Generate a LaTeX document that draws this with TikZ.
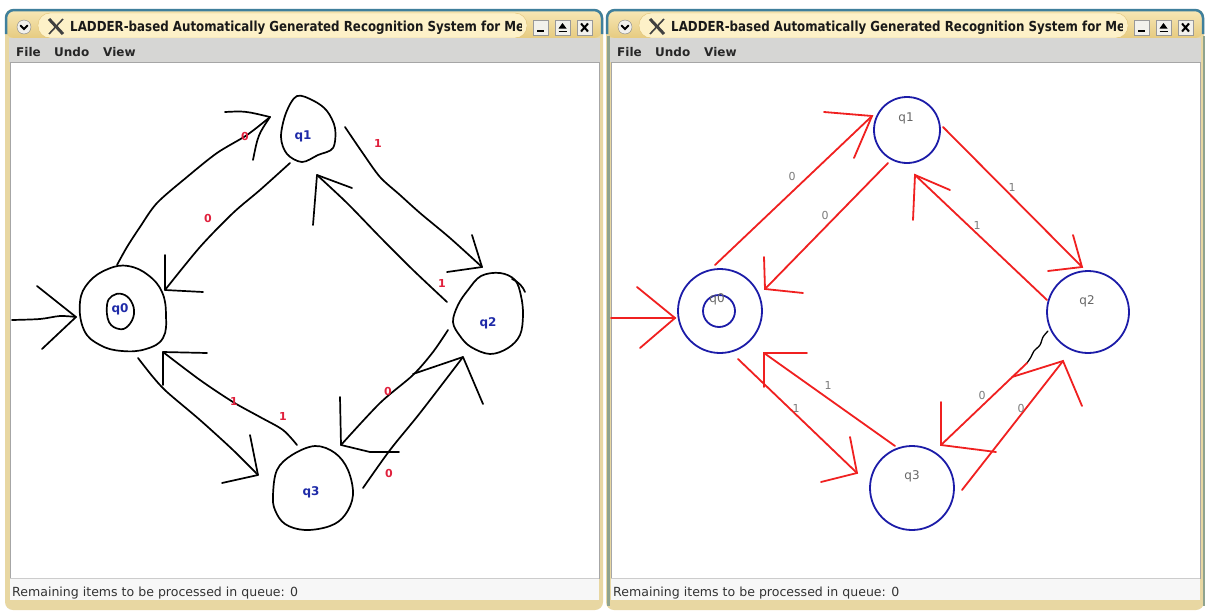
\documentclass[tikz,border=0pt]{standalone}
\usepackage{fontspec}
\usepackage{graphicx}
\setmainfont{DejaVu Sans}
\usetikzlibrary{calc}
\definecolor{frameC}{HTML}{E8D7A2}
\definecolor{barTop}{HTML}{F7E7B6}
\definecolor{barBot}{HTML}{E6CB80}
\definecolor{pillC}{HTML}{FDF1C8}
\definecolor{pillEdge}{HTML}{E0C274}
\definecolor{tealC}{HTML}{3F7F9C}
\definecolor{menuC}{HTML}{D6D6D4}
\definecolor{stateblue}{HTML}{1C1CA8}
\definecolor{edgered}{HTML}{F02020}
\definecolor{lblred}{HTML}{E0203C}
\definecolor{lblgray}{HTML}{7A7A7A}
\definecolor{labblue}{HTML}{1E2AA8}
\definecolor{btnC}{HTML}{F2F1EC}

% One application window: chrome, menu bar, empty canvas and status line
\newcommand\appwindow[2]{%
\begin{scope}[shift={(#1,0)}]
  \fill[frameC, rounded corners=8] (5,9) rectangle (603,610);
  \shade[top color=barTop, bottom color=barBot, rounded corners=8] (6,10) rectangle (602,38);
  \draw[tealC, line width=2.5pt, rounded corners=8] (6,34) -- (6,10) -- (602,10) -- (602,34);
  \draw[pillEdge, fill=pillC, rounded corners=12] (38,13) rectangle (527,38);
  % window menu button
  \draw[gray, fill=btnC] (24,27) circle (7);
  \draw[black, line width=2pt, line cap=round] (20.5,25.5) -- (24,29) -- (27.5,25.5);
  % X logo
  \draw[black!75, line width=3pt] (49,19) -- (63,34);
  \draw[black!75, line width=1.6pt] (63,19) -- (49,34);
  \begin{scope}
    \clip (38,13) rectangle (521,38);
    \node[anchor=base west, inner sep=0pt, text=black!90] (title#2) at (70,31.5)
      {\resizebox{454pt}{10.5pt}{\bfseries LADDER-based Automatically Generated Recognition System for Me}};
  \end{scope}
  % minimise, maximise, close
  \foreach \bx in {533,555,577}{
    \draw[gray!80, fill=btnC] (\bx,20) rectangle ++(15,15);
  }
  \draw[black, line width=2pt] (537,31) -- (544,31);
  \fill[black] (558.5,28.5) -- (562.5,23) -- (566.5,28.5) -- cycle;
  \draw[black, line width=1.5pt] (558.5,31.5) -- (566.5,31.5);
  \draw[black, line width=2pt] (581,23.5) -- (588,31.5) (588,23.5) -- (581,31.5);
  % menu bar
  \fill[menuC] (9,38) rectangle (600,62);
  \node[menutext] (file#2) at (16,56) {File};
  \node[menutext] (undo#2) at (54,56) {Undo};
  \node[menutext] (view#2) at (103,56) {View};
  % canvas and status line
  \draw[gray!70, fill=white] (10,62) rectangle (599,578);
  \fill[white!97!black] (10,578) rectangle (599,600);
  \draw[gray!40] (10,578) -- (599,578);
  \node[anchor=base west, inner sep=0pt, text=black!80] (status#2) at (12,596)
    {\resizebox{286pt}{!}{Remaining items to be processed in queue: 0}};
\end{scope}}

\begin{document}
\begin{tikzpicture}[x=1pt,y=-1pt,
  menutext/.style={anchor=base west, inner sep=0pt, text=black!85, font=\bfseries\fontsize{12}{14}\selectfont},
  hand/.style={line width=1.7pt, line cap=round, line join=round, black},
  rline/.style={line width=1.8pt, edgered, line cap=round, line join=miter},
  st/.style={circle, draw=stateblue, line width=1.8pt, inner sep=0pt},
  lq/.style={text=labblue, font=\bfseries\fontsize{12}{13}\selectfont, inner sep=0pt},
  ld/.style={text=lblred, font=\bfseries\fontsize{11}{12}\selectfont, inner sep=0pt},
  rq/.style={text=black!60, font=\fontsize{12}{13}\selectfont, inner sep=0pt},
  rd/.style={text=lblgray, font=\fontsize{11}{12}\selectfont, inner sep=0pt},
]
\useasboundingbox (0,0) rectangle (1210,613);
\fill[white] (0,0) rectangle (1210,613);

\appwindow{0}{L}
\appwindow{601}{R}
\draw[gray!60!green!40!black!50, line width=3pt] (608,36) -- (608,606);
\draw[gray!60!green!40!black!50, line width=2pt] (1204,36) -- (1204,606);

% ---------------- sketched automaton (left) ----------------
\node[lq] (lq0) at (120,309) {q0};
\node[lq] (lq1) at (303,136) {q1};
\node[lq] (lq2) at (488,323) {q2};
\node[lq] (lq3) at (311,492) {q3};

\draw[hand] plot[smooth cycle, tension=0.7] coordinates
  {(80,302) (89,282) (108,269) (128,266) (148,275) (162,292) (166,315) (163,338) (146,349) (122,351) (100,345) (84,330)};
\draw[hand] plot[smooth cycle, tension=0.7] coordinates
  {(107,305) (112,296) (122,294) (131,301) (134,314) (128,326) (119,329) (109,322)};
\draw[hand] plot[smooth cycle, tension=0.55] coordinates
  {(281,137) (286,113) (297,96) (314,101) (327,111) (335,128) (333,148) (318,155) (302,162) (287,154)};
\draw[hand] plot[smooth cycle, tension=0.6] coordinates
  {(453,322) (458,305) (468,290) (481,276) (500,273) (515,280) (521,296) (523,315) (520,335) (508,348) (490,354) (471,347) (460,336)};
\draw[hand] (512,279) .. controls (519,282) and (523,287) .. (525,292);
\draw[hand] plot[smooth cycle, tension=0.6] coordinates
  {(273,495) (277,470) (292,455) (315,446) (335,453) (348,470) (353,495) (345,515) (330,526) (305,530) (285,524) (275,510)};

% named ends of the sketched strokes
\coordinate (Lin) at (12,320);   \coordinate (Lint) at (76,317);
\coordinate (L01s) at (117,265); \coordinate (L01t) at (270,117);
\coordinate (L10s) at (290,163); \coordinate (L10t) at (165,290);
\coordinate (L12s) at (345,127); \coordinate (L12t) at (482,267);
\coordinate (L21s) at (447,302); \coordinate (L21t) at (317,175);
\coordinate (L30s) at (297,445); \coordinate (L30t) at (163,352);
\coordinate (L03s) at (138,358); \coordinate (L03t) at (258,475);
\coordinate (L23s) at (448,330); \coordinate (L23t) at (341,445);
\coordinate (L32s) at (363,488); \coordinate (L32t) at (463,357);

\draw[hand] plot[smooth] coordinates {(Lin) (40,319) (60,316) (Lint)};
\draw[hand] (37,286) -- (Lint) -- (42,349);

\draw[hand] plot[smooth] coordinates {(L01s) (127,247) (140,227) (157,203) (187,177) (217,153) (247,135) (L01t)};
\draw[hand] (225,112) .. controls (245,111) .. (L01t) .. controls (258,135) .. (253,160);

\draw[hand] plot[smooth] coordinates {(L10s) (260,190) (233,213) (200,247) (L10t)};
\draw[hand] (165,255) -- (L10t) -- (203,292);

\draw[hand] plot[smooth] coordinates {(L12s) (362,152) (380,177) (400,195) (420,213) (450,238) (L12t)};
\draw[hand] (472,235) -- (L12t) -- (447,272);

\draw[hand] plot[smooth] coordinates {(L21s) (413,270) (380,237) (347,203) (L21t)};
\draw[hand] (313,225) -- (L21t) -- (352,188);

\draw[hand] plot[smooth] coordinates {(L30s) (283,430) (260,417) (233,402) (200,380) (L30t)};
\draw[hand] (163,385) -- (L30t) -- (207,353);

\draw[hand] plot[smooth] coordinates {(L03s) (153,377) (167,392) (200,420) (233,450) (L03t)};
\draw[hand] (250,435) -- (L03t) -- (222,483);

\draw[hand] plot[smooth] coordinates {(L23s) (433,352) (413,375) (380,403) (L23t)};
\draw[hand] (340,397) -- (L23t) -- (370,452) -- (399,452);

\draw[hand] plot[smooth] coordinates {(L32s) (390,450) (420,413) (L32t)};
\draw[hand] (413,374) -- (L32t) -- (483,404);

\node[ld] (l01) at (245,136) {0};
\node[ld] (l10) at (208,218) {0};
\node[ld] (l12) at (378,143) {1};
\node[ld] (l21) at (442,283) {1};
\node[ld] (l30) at (283,416) {1};
\node[ld] (l03) at (234,401) {1};
\node[ld] (l23) at (388,391) {0};
\node[ld] (l32) at (389,473) {0};

% ---------------- recognised automaton (right) ----------------
\node[st, minimum size=84pt] (r0) at (720,311) {};
\node[st, minimum size=32pt] (r0in) at (719,311) {};
\node[st, minimum size=66pt] (r1) at (907,130) {};
\node[st, minimum size=82pt] (r2) at (1088,312) {};
\node[st, minimum size=84pt] (r3) at (912,488) {};
\node[rq] (rq0) at (717,299) {q0};
\node[rq] (rq1) at (906,118) {q1};
\node[rq] (rq2) at (1087,301) {q2};
\node[rq] (rq3) at (912,476) {q3};

\coordinate (Rin) at (611,318);   \coordinate (Rint) at (675,318);
\coordinate (R01s) at (715,265); \coordinate (R01t) at (872,116);
\coordinate (R10s) at (888,163); \coordinate (R10t) at (765,289);
\coordinate (R12s) at (943,127); \coordinate (R12t) at (1082,267);
\coordinate (R21s) at (1047,300); \coordinate (R21t) at (915,175);
\coordinate (R30s) at (895,446); \coordinate (R30t) at (764,353);
\coordinate (R03s) at (738,359); \coordinate (R03t) at (857,473);
\coordinate (R23s) at (1027,363); \coordinate (R23t) at (941,445);
\coordinate (R32s) at (962,490); \coordinate (R32t) at (1063,361);

\draw[rline] (Rin) -- (Rint);
\draw[rline] (Rint) ++(-38,-31) -- (Rint) -- ++(-35,30);
\draw[rline] (R01s) -- (R01t);
\draw[rline] (R01t) ++(-48,-4) -- (R01t) -- ++(-18,42);
\draw[rline] (R10s) -- (R10t);
\draw[rline] (R10t) ++(-1,-32) -- (R10t) -- ++(38,4);
\draw[rline] (R12s) -- (R12t);
\draw[rline] (R12t) ++(-9,-32) -- (R12t) -- ++(-34,4);
\draw[rline] (R21s) -- (R21t);
\draw[rline] (R21t) ++(-2,45) -- (R21t) -- ++(35,15);
\draw[rline] (R30s) -- (R30t);
\draw[rline] (R30t) ++(0,34) -- (R30t) -- ++(43,0);
\draw[rline] (R03s) -- (R03t);
\draw[rline] (R03t) ++(-7,-36) -- (R03t) -- ++(-36,9);
\draw[hand, line width=1.3pt] plot[smooth] coordinates {(1048,331) (1043,337) (1040,345) (1034,351) (1031,357) (R23s)};
\draw[rline] (R23s) -- (R23t);
\draw[rline] (R23t) ++(0,-43) -- (R23t) -- ++(55,7);
\draw[rline] (R32s) -- (R32t);
\draw[rline] (R32t) ++(-51,16) -- (R32t) -- ++(19,45);

\node[rd] (r01) at (792,176) {0};
\node[rd] (r10) at (825,215) {0};
\node[rd] (r12) at (1012,187) {1};
\node[rd] (r21) at (977,225) {1};
\node[rd] (r30) at (828,385) {1};
\node[rd] (r03) at (796,408) {1};
\node[rd] (r23) at (982,395) {0};
\node[rd] (r32) at (1021,408) {0};
\end{tikzpicture}
\end{document}
